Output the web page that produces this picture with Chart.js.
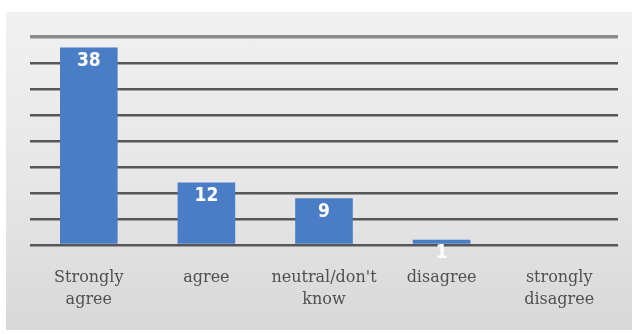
<!DOCTYPE html>
<html>
<head>
<meta charset="utf-8">
<script src="https://cdn.jsdelivr.net/npm/chart.js@4"></script>
<style>
  html, body { margin: 0; padding: 0; background: #fff; }
  #wrap { position: relative; width: 638px; height: 334px; }
  #panel {
    position: absolute; left: 6px; top: 12px; width: 626px; height: 318px;
    background: linear-gradient(180deg, #f1f1f1 0%, #e6e6e6 55%, #d8d8d8 100%);
  }
  canvas { position: absolute; left: 0; top: 0; }
</style>
</head>
<body>
<div id="wrap">
  <div id="panel"></div>
  <canvas id="chart" width="638" height="334"></canvas>
</div>
<script>
'use strict';

const categories = [
  ['Strongly', 'agree'],
  'agree',
  ['neutral/don\'t', 'know'],
  'disagree',
  ['strongly', 'disagree']
];
const responses = [38, 12, 9, 1, 0];
const axisMax = 40;
const axisStep = 5;

// white value labels drawn just inside the top of each bar
const barValueLabels = {
  id: 'barValueLabels',
  afterDatasetsDraw(chart) {
    const ctx = chart.ctx;
    const meta = chart.getDatasetMeta(0);
    ctx.save();
    ctx.font = 'bold 19px "DejaVu Sans Condensed", "Liberation Sans Narrow", sans-serif';
    ctx.fillStyle = '#ffffff';
    ctx.textAlign = 'center';
    ctx.textBaseline = 'top';
    meta.data.forEach((bar, i) => {
      const v = responses[i];
      if (!v) return;
      ctx.fillText(String(v), bar.x, bar.y + 4);
    });
    ctx.restore();
  }
};

new Chart(document.getElementById('chart'), {
  type: 'bar',
  data: {
    labels: categories,
    datasets: [{
      data: responses,
      backgroundColor: '#4a7dc6',
      borderWidth: 0,
      categoryPercentage: 1,
      barPercentage: 0.49
    }]
  },
  options: {
    responsive: false,
    animation: false,
    layout: { padding: { left: 30, right: 20, top: 37, bottom: 0 } },
    plugins: { legend: { display: false }, tooltip: { enabled: false } },
    scales: {
      x: {
        grid: { display: false },
        border: { display: false },
        ticks: {
          color: '#505050',
          font: { family: '"DejaVu Serif", "Liberation Serif", serif', size: 16, lineHeight: 1.42 },
          padding: 13,
          maxRotation: 0,
          autoSkip: false
        },
        afterFit(scale) { scale.height = 89; }
      },
      y: {
        min: 0,
        max: axisMax,
        afterFit(scale) { scale.width = 0; },
        ticks: { display: false, stepSize: axisStep },
        border: { display: false },
        grid: {
          drawTicks: false,
          lineWidth: ctx => ctx.tick && ctx.tick.value === axisMax ? 3.5 : 2.5,
          color: ctx => ctx.tick && ctx.tick.value === axisMax ? '#8c8c8c' : '#575757'
        }
      }
    }
  },
  plugins: [barValueLabels]
});
</script>
</body>
</html>
